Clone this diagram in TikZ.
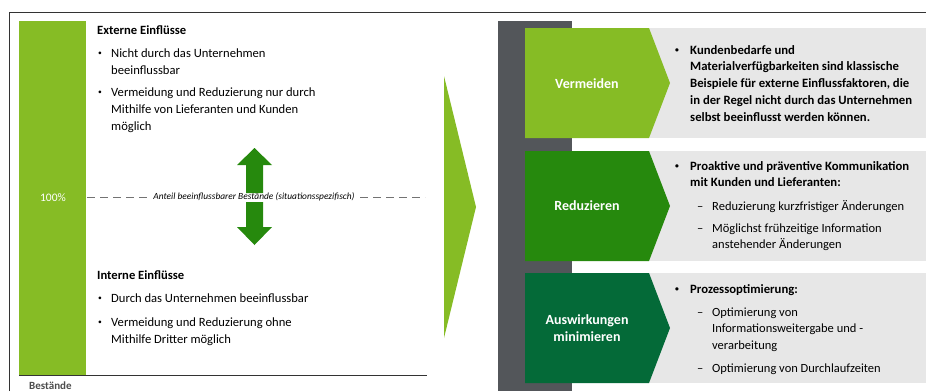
\documentclass[tikz,border=0pt]{standalone}
\usepackage{fontspec}
\setmainfont{Carlito}
\usepackage{tikz}

\definecolor{lgreen}{HTML}{86BC25}
\definecolor{mgreen}{HTML}{26890D}
\definecolor{dgreen}{HTML}{046A38}
\definecolor{bargray}{HTML}{53565A}
\definecolor{panelgray}{HTML}{E7E7E7}

\newcommand{\smbul}{\strut\raisebox{0.12em}{\scalebox{0.6}{\textbullet}}}

\tikzset{
    txt/.style={font=\fontsize{12.6}{17.4}\selectfont, align=left, anchor=north west, inner sep=0pt},
    boldtxt/.style={font=\bfseries\fontsize{12.7}{16.8}\selectfont, align=left, anchor=north west, inner sep=0pt},
    subtxt/.style={font=\fontsize{12.5}{16.8}\selectfont, align=left, anchor=north west, inner sep=0pt},
    chevlabel/.style={font=\bfseries\fontsize{14}{17.5}\selectfont, text=white, align=center},
    chevron/.style={fill=#1}
}

\begin{document}
\begin{tikzpicture}[x=1pt, y=-1pt]
    \useasboundingbox (0,0) rectangle (926,391);

    % Frame
    \draw[black!80, line width=0.8pt] (9,391) -- (9,12) -- (926,12);

    % Bestaende bar
    \fill[lgreen] (19,21) rectangle (86,375);
    \node[text=white, font=\fontsize{11.5}{13}\selectfont] (pct) at (53,198) {100\%};
    \draw[black!80, line width=0.8pt] (19,375) -- (427,375);
    \node[anchor=base west, inner sep=0pt, text=black!70, font=\bfseries\fontsize{11}{13}\selectfont] (axis) at (29,389.5) {Bestände};

    % Share line
    \draw[black!55, line width=0.7pt, dash pattern=on 8pt off 5pt] (87,197) -- (425,197);
    \node[fill=white, inner sep=3pt, font=\itshape\fontsize{9.4}{11}\selectfont] (share) at (254,197) {Anteil beeinflussbarer Bestände (situationsspezifisch)};

    % Up / down arrows
    \fill[mgreen] (254.5,148) -- (272,165) -- (263,165) -- (263,193) -- (246,193) -- (246,165) -- (237,165) -- cycle;
    \fill[mgreen] (246,202) -- (263,202) -- (263,227) -- (272,227) -- (254.5,245) -- (237,227) -- (246,227) -- cycle;

    % External
    \node[txt, font=\bfseries\fontsize{12.6}{17.4}\selectfont] (ext) at (97,21.8) {\strut Externe Einflüsse};
    \node[txt] (extb1) at (98,44.8) {\smbul};
    \node[txt] (ext1) at (111,44.8) {\strut Nicht durch das Unternehmen\\beeinflussbar};
    \node[txt] (extb2) at (98,83.8) {\smbul};
    \node[txt] (ext2) at (111,83.8) {\strut Vermeidung und Reduzierung nur durch\\Mithilfe von Lieferanten und Kunden\\möglich};

    % Internal
    \node[txt, font=\bfseries\fontsize{12.6}{17.4}\selectfont] (int) at (97,266.8) {\strut Interne Einflüsse};
    \node[txt] (intb1) at (98,289.8) {\smbul};
    \node[txt] (int1) at (111,289.8) {\strut Durch das Unternehmen beeinflussbar};
    \node[txt] (intb2) at (98,313.8) {\smbul};
    \node[txt] (int2) at (111,313.8) {\strut Vermeidung und Reduzierung ohne\\Mithilfe Dritter möglich};

    % Big chevron
    \fill[lgreen] (444,76) -- (476,207) -- (444,338) -- cycle;

    % Measures
    \fill[bargray] (498,21) rectangle (572,391);
    \fill[panelgray] (525,28) rectangle (926,138);
    \fill[panelgray] (525,151) rectangle (926,261);
    \fill[panelgray] (525,273) rectangle (926,383);
    \fill[chevron=lgreen] (525,28) -- (649,28) -- (670,83) -- (649,138) -- (525,138) -- cycle;
    \fill[chevron=mgreen] (525,151) -- (649,151) -- (670,206) -- (649,261) -- (525,261) -- cycle;
    \fill[chevron=dgreen] (525,273) -- (649,273) -- (670,328) -- (649,383) -- (525,383) -- cycle;
    \node[chevlabel] (verm) at (587,84) {Vermeiden};
    \node[chevlabel] (red) at (587,206) {Reduzieren};
    \node[chevlabel] (ausw) at (587,328) {Auswirkungen\\minimieren};

    % Vermeiden
    \node[boldtxt] (vermb) at (675,42.2) {\smbul};
    \node[boldtxt] (vermtxt) at (690,42.2) {\strut Kundenbedarfe und\\Materialverfügbarkeiten sind klassische\\Beispiele für externe Einflussfaktoren, die\\in der Regel nicht durch das Unternehmen\\selbst beeinflusst werden können.};

    % Reduzieren
    \node[boldtxt] (redb) at (675,158.2) {\smbul};
    \node[boldtxt] (redtxt) at (690,158.2) {\strut Proaktive und präventive Kommunikation\\mit Kunden und Lieferanten:};
    \node[subtxt] (redd1) at (697,198.2) {\strut --};
    \node[subtxt] (red1) at (712,198.2) {\strut Reduzierung kurzfristiger Änderungen};
    \node[subtxt] (redd2) at (697,220.2) {\strut --};
    \node[subtxt] (red2) at (712,220.2) {\strut Möglichst frühzeitige Information\\anstehender Änderungen};

    % Auswirkungen minimieren
    \node[boldtxt] (auswb) at (675,281.2) {\smbul};
    \node[boldtxt] (auswtxt) at (690,281.2) {\strut Prozessoptimierung:};
    \node[subtxt] (auswd1) at (697,304.2) {\strut --};
    \node[subtxt] (ausw1) at (712,304.2) {\strut Optimierung von\\Informationsweitergabe und -\\verarbeitung};
    \node[subtxt] (auswd2) at (697,360.2) {\strut --};
    \node[subtxt] (ausw2) at (712,360.2) {\strut Optimierung von Durchlaufzeiten};
\end{tikzpicture}
\end{document}
